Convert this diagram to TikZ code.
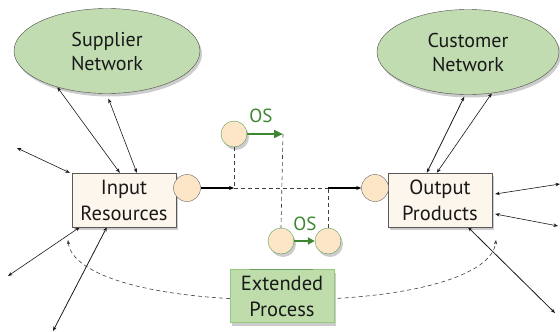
\documentclass[tikz,border=0pt]{standalone}
\usepackage{fontspec}
\setmainfont{PT Sans}
\usetikzlibrary{arrows.meta,shadows,shapes.geometric}
\pgfdeclarelayer{bg}
\pgfsetlayers{bg,main}
\definecolor{netfill}{RGB}{192,220,176}
\definecolor{boxfill}{RGB}{253,246,236}
\definecolor{portfill}{RGB}{253,229,199}
\definecolor{osgreen}{RGB}{62,135,50}
\definecolor{extfill}{RGB}{190,221,170}
\definecolor{extdraw}{RGB}{150,200,125}
\tikzset{
    softshadow/.style={drop shadow={shadow xshift=2pt, shadow yshift=-3pt, opacity=0.2, fill=black}},
    network/.style={ellipse, draw=black!70, fill=netfill, minimum width=186pt, minimum height=85pt,
        inner sep=0pt, align=center, text=black!90, font=\fontsize{20}{24}\selectfont, softshadow},
    resbox/.style={rectangle, draw=black!65, fill=boxfill, minimum width=104pt, minimum height=54pt,
        inner sep=0pt, align=center, text=black!90, font=\fontsize{20.5}{26}\selectfont, softshadow},
    extbox/.style={rectangle, draw=extdraw, fill=extfill, minimum width=104pt, minimum height=53pt,
        inner sep=0pt, align=center, text=black!90, font=\fontsize{20.5}{26}\selectfont, softshadow},
    port/.style={circle, draw=black!60, fill=portfill, minimum size=27pt, inner sep=0pt},
    osport/.style={circle, draw=osgreen!85, fill=portfill, minimum size=26pt, inner sep=0pt, softshadow},
    link/.style={black!90, line width=0.6pt, {Stealth[length=4.5pt,width=3.5pt]}-{Stealth[length=4.5pt,width=3.5pt]}},
    trunk/.style={black, line width=1.2pt, -{Stealth[length=5pt,width=4pt]}},
    wire/.style={black!75, line width=0.6pt, dash pattern=on 4pt off 3pt},
    osarrow/.style={osgreen, line width=2.5pt, -{Triangle[length=9pt,width=8pt]}},
    oslabel/.style={text=osgreen, font=\fontsize{19}{19}\selectfont, inner sep=0pt},
    empty/.style={draw=none, fill=none, minimum size=0mm, inner sep=0mm}
}
\begin{document}
\begin{tikzpicture}[x=1pt, y=-1pt]
    \useasboundingbox (0,0) rectangle (560,332);

    \node (sup) at (107,51) [network] {Supplier\\Network};
    \node (cus) at (468,52) [network, minimum width=182pt] {Customer\\Network};

    \node (inp) at (124,200) [resbox] {Input\\Resources};
    \node (oup) at (440,200) [resbox] {Output\\Products};
    \node (ip) at (187,188) [port] {};
    \node (op) at (375,188) [port] {};

    \node (os1) at (234,134) [osport] {};
    \node (os2) at (281,241) [osport] {};
    \node (os3) at (328,241) [osport] {};

    \coordinate (j1) at (234,188);
    \coordinate (j2) at (328,188);
    \coordinate (t1) at (283,134);

    % free ends of the outer links
    \coordinate (l1) at (17,148);
    \coordinate (l2) at (8,276);
    \coordinate (l3) at (53,331);
    \coordinate (r1) at (560,184);
    \coordinate (r2) at (558,226);
    \coordinate (r3) at (555,313);

    \begin{pgfonlayer}{bg}
        \draw[wire, {Stealth[length=4.5pt,width=3.5pt]}-{Stealth[length=4.5pt,width=3.5pt]}]
            (68,240) .. controls (72,275) and (150,300) .. (282,300)
            .. controls (414,300) and (492,275) .. (496,240);

        \draw[link] ([xshift=48pt]inp.north west) -- (sup.216);
        \draw[link] ([xshift=65pt]inp.north west) -- ([yshift=-5pt]sup.272);
        \draw[link] (l1) -- ([xshift=-2pt]inp.north west);
        \draw[link] (l2) -- ([xshift=8pt]inp.south west);
        \draw[link, line width=0.8pt] (l3) -- ([xshift=35pt]inp.south west);

        \draw[link, line width=0.8pt] ([xshift=39pt]oup.north west) -- ([yshift=-2pt]cus.265);
        \draw[link] ([xshift=49pt]oup.north west) -- (cus.300);
        \draw[link] (r1) -- ([yshift=6pt, xshift=3pt]oup.east);
        \draw[link] (r2) -- ([yshift=-14pt, xshift=3pt]oup.east);
        \draw[link, line width=0.8pt] (r3) -- ([xshift=28pt]oup.south);
    \end{pgfonlayer}

    \draw[trunk] (ip.east) -- (j1);
    \draw[wire] (j1) -- (j2);
    \draw[trunk] (j2) -- (op.west);
    \draw[wire] (os1.south) -- (j1);
    \draw[wire] (t1) -- (os2.north);
    \draw[wire] (os3.north) -- (j2);

    \draw[osarrow] (os1.east) -- (t1);
    \node (os1l) at (261,116) [oslabel] {OS};
    \draw[osarrow, line width=2pt, -{Triangle[length=7pt,width=7pt]}] (os2.east) -- (os3.west);
    \node (os2l) at (305,224) [oslabel] {OS};

    \node (ext) at (282,296) [extbox] {Extended\\Process};
    \draw[osgreen!80, line width=1.5pt] ([xshift=20pt]ext.north west) -- ([xshift=83pt]ext.north west);
\end{tikzpicture}
\end{document}
